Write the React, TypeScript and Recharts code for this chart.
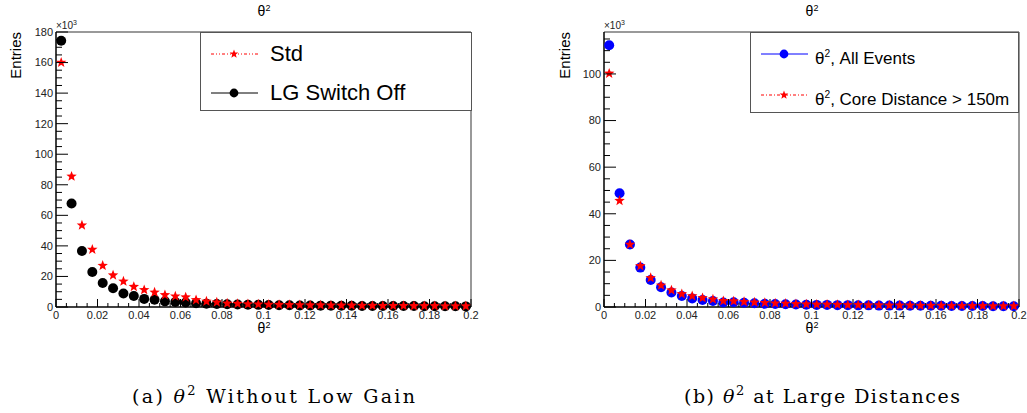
import { ScatterChart, Scatter, XAxis, YAxis, ReferenceLine, Legend } from 'recharts';

// theta^2 bin centres (bin width 0.005)
const THETA2_BINS = [
  0.0025, 0.0075, 0.0125, 0.0175, 0.0225, 0.0275, 0.0325, 0.0375, 0.0425, 0.0475,
  0.0525, 0.0575, 0.0625, 0.0675, 0.0725, 0.0775, 0.0825, 0.0875, 0.0925, 0.0975,
  0.1025, 0.1075, 0.1125, 0.1175, 0.1225, 0.1275, 0.1325, 0.1375, 0.1425, 0.1475,
  0.1525, 0.1575, 0.1625, 0.1675, 0.1725, 0.1775, 0.1825, 0.1875, 0.1925, 0.1975,
];

// entries, x10^3
const STD_COUNTS = [
  160, 85.5, 53.5, 37.6, 27.1, 20.8, 16.8, 13.3, 11.2, 9.6,
  7.9, 7.0, 6.4, 4.6, 3.7, 3.1, 2.4, 2.2, 1.9, 1.8,
  1.6, 1.5, 1.4, 1.3, 1.2, 1.2, 1.1, 1.0, 1.0, 0.9,
  0.9, 0.8, 0.8, 0.8, 0.7, 0.7, 0.7, 0.6, 0.6, 0.6,
];
const LG_OFF_COUNTS = [
  174.3, 67.8, 36.7, 22.9, 15.7, 12.3, 8.8, 7.2, 5.3, 4.8,
  3.7, 3.3, 2.9, 2.5, 2.2, 2.0, 1.8, 1.6, 1.5, 1.4,
  1.3, 1.2, 1.1, 1.0, 1.0, 0.9, 0.9, 0.8, 0.8, 0.7,
  0.7, 0.7, 0.6, 0.6, 0.6, 0.5, 0.5, 0.5, 0.5, 0.4,
];
const ALL_EVENTS_COUNTS = [
  112.3, 48.8, 26.8, 16.9, 11.6, 8.5, 6.2, 4.7, 3.7, 3.0,
  2.6, 1.9, 2.0, 1.8, 1.6, 1.4, 1.3, 1.2, 1.1, 1.0,
  0.9, 0.9, 0.8, 0.8, 0.7, 0.7, 0.6, 0.6, 0.6, 0.5,
  0.5, 0.5, 0.5, 0.4, 0.4, 0.4, 0.4, 0.3, 0.3, 0.3,
];
const CORE_150_COUNTS = [
  100.2, 45.6, 26.8, 17.6, 12.5, 9.3, 7.2, 5.6, 4.7, 3.9,
  3.3, 2.6, 2.5, 2.2, 2.0, 1.8, 1.6, 1.5, 1.3, 1.2,
  1.1, 1.1, 1.0, 0.9, 0.9, 0.8, 0.8, 0.7, 0.7, 0.7,
  0.6, 0.6, 0.6, 0.5, 0.5, 0.5, 0.5, 0.4, 0.4, 0.4,
];

const X_TICKS = [
  0, 0.005, 0.01, 0.015, 0.02, 0.025, 0.03, 0.035, 0.04, 0.045, 0.05,
  0.055, 0.06, 0.065, 0.07, 0.075, 0.08, 0.085, 0.09, 0.095, 0.1,
  0.105, 0.11, 0.115, 0.12, 0.125, 0.13, 0.135, 0.14, 0.145, 0.15,
  0.155, 0.16, 0.165, 0.17, 0.175, 0.18, 0.185, 0.19, 0.195, 0.2,
];
const X_MAJOR = [0, 0.02, 0.04, 0.06, 0.08, 0.1, 0.12, 0.14, 0.16, 0.18, 0.2];
const Y_TICKS_A = [
  0, 5, 10, 15, 20, 25, 30, 35, 40, 45, 50, 55, 60, 65, 70, 75, 80, 85, 90,
  95, 100, 105, 110, 115, 120, 125, 130, 135, 140, 145, 150, 155, 160, 165, 170, 175, 180,
];
const Y_TICKS_B = [
  0, 5, 10, 15, 20, 25, 30, 35, 40, 45, 50, 55, 60, 65, 70, 75, 80, 85, 90,
  95, 100, 105, 110, 115,
];
const Y_MAJOR = [0, 20, 40, 60, 80, 100, 120, 140, 160, 180];

const toPoints = (ys: number[]) => THETA2_BINS.map((x, i) => ({ x, y: ys[i] }));

const SANS = '"Liberation Sans", Arial, Helvetica, sans-serif';
const SERIF = '"DejaVu Serif", "Liberation Serif", serif';

function Star({ cx, cy, r = 5.5, fill = '#ff0000' }: any) {
  const pts: string[] = [];
  for (let k = 0; k < 10; k++) {
    const rad = k % 2 === 0 ? r : r * 0.42;
    const a = -Math.PI / 2 + (k * Math.PI) / 5;
    pts.push(`${cx + rad * Math.cos(a)},${cy + rad * Math.sin(a)}`);
  }
  return <polygon points={pts.join(' ')} fill={fill} />;
}

function Dot({ cx, cy, r = 5, fill = '#000' }: any) {
  return <circle cx={cx} cy={cy} r={r} fill={fill} />;
}

function XTick({ x, y, payload }: any) {
  const v = payload.value;
  const major = X_MAJOR.some((m) => Math.abs(m - v) < 1e-6);
  return (
    <g>
      <line x1={x} y1={y} x2={x} y2={y - (major ? 8 : 4)} stroke="#000" strokeWidth={1} />
      {major && (
        <text x={x} y={y + 12} textAnchor="middle" fontSize={11} fontFamily={SANS} fill="#222">
          {String(v)}
        </text>
      )}
    </g>
  );
}

function YTick({ x, y, payload }: any) {
  const v = payload.value;
  const major = Y_MAJOR.includes(v);
  return (
    <g>
      <line x1={x} y1={y} x2={x + (major ? 12 : 6)} y2={y} stroke="#000" strokeWidth={1} />
      {major && (
        <text x={x - 3} y={y} dy="0.35em" textAnchor="end" fontSize={11} fontFamily={SANS} fill="#222">
          {v}
        </text>
      )}
    </g>
  );
}

type Entry = { label: React.ReactNode; color: string; dash?: string; marker: 'star' | 'dot' };

function LegendBox({ entries, width, height, rows, textLeft, fontSize }: any) {
  return (
    <div
      style={{
        width,
        height,
        boxSizing: 'border-box',
        border: '1px solid #555',
        background: '#fff',
        position: 'relative',
        fontFamily: SANS,
        fontSize,
        color: '#000',
      }}
    >
      {entries.map((e: Entry, i: number) => (
        <div key={i} style={{ position: 'absolute', left: 0, top: rows[i] - 14, height: 28, width: '100%' }}>
          <svg width={60} height={28} style={{ position: 'absolute', left: 8, top: 0 }}>
            <line x1={2} y1={14} x2={49} y2={14} stroke={e.color} strokeWidth={1} strokeDasharray={e.dash} />
            {e.marker === 'star' ? <Star cx={25} cy={14} r={4.5} fill={e.color} /> : <Dot cx={25} cy={14} r={4.4} fill={e.color} />}
          </svg>
          <div style={{ position: 'absolute', left: textLeft, top: 0, height: 28, lineHeight: '28px', whiteSpace: 'nowrap' }}>
            {e.label}
          </div>
        </div>
      ))}
    </div>
  );
}

const LEFT_LEGEND: Entry[] = [
  { label: 'Std', color: '#ff0000', dash: '3 2 1 2 1 2', marker: 'star' },
  { label: 'LG Switch Off', color: '#000', marker: 'dot' },
];
const RIGHT_LEGEND: Entry[] = [
  { label: <span>θ<sup style={{ fontSize: '0.6em' }}>2</sup>, All Events</span>, color: '#0000ff', marker: 'dot' },
  {
    label: <span>θ<sup style={{ fontSize: '0.6em' }}>2</sup>, Core Distance &gt; 150m</span>,
    color: '#ff0000',
    dash: '3 2 1 2',
    marker: 'star',
  },
];

function Panel({ left, width, yMax, yTicks, series, legend }: any) {
  return (
    <div style={{ position: 'absolute', left, top: 0 }}>
      <ScatterChart width={width} height={340} margin={{ top: 32, right: width - 56 - 415, left: 55, bottom: 32 }}>
        <XAxis
          type="number"
          dataKey="x"
          domain={[0, 0.2]}
          ticks={X_TICKS}
          interval={0}
          height={1}
          tickSize={0}
          tickMargin={0}
          tickLine={false}
          tick={(p: any) => <XTick {...p} />}
          axisLine={{ stroke: '#000', strokeWidth: 1.5 }}
        />
        <YAxis
          type="number"
          dataKey="y"
          domain={[0, yMax]}
          ticks={yTicks}
          interval={0}
          width={1}
          tickSize={0}
          tickMargin={0}
          tickLine={false}
          tick={(p: any) => <YTick {...p} />}
          axisLine={{ stroke: '#000', strokeWidth: 1.5 }}
        />
        <ReferenceLine y={yMax} stroke="#777" strokeWidth={1.5} />
        <ReferenceLine x={0.2} stroke="#777" strokeWidth={1.5} />
        {series.map((s: any) => (
          <Scatter
            key={s.name}
            name={s.name}
            data={s.data}
            isAnimationActive={false}
            shape={(p: any) => (s.marker === 'star' ? <Star cx={p.cx} cy={p.cy} fill={s.color} /> : <Dot cx={p.cx} cy={p.cy} fill={s.color} />)}
          />
        ))}
        <Legend
          layout="vertical"
          align="center"
          verticalAlign="middle"
          wrapperStyle={{ left: legend.left, top: 32, width: legend.width, height: legend.height }}
          content={() => <LegendBox {...legend} />}
        />
      </ScatterChart>
    </div>
  );
}

export default function App() {
  return (
    <div style={{ position: 'absolute', left: 0, top: 0, width: 1027, height: 413, background: '#fff' }}>
      <Panel
        left={0}
        width={520}
        yMax={180}
        yTicks={Y_TICKS_A}
        series={[
          { name: 'LG Switch Off', data: toPoints(LG_OFF_COUNTS), color: '#000', marker: 'dot' },
          { name: 'Std', data: toPoints(STD_COUNTS), color: '#ff0000', marker: 'star' },
        ]}
        legend={{ left: 200, width: 272, height: 79, entries: LEFT_LEGEND, rows: [21, 60], textLeft: 69, fontSize: 22 }}
      />
      <Panel
        left={548}
        width={479}
        yMax={118}
        yTicks={Y_TICKS_B}
        series={[
          { name: 'All Events', data: toPoints(ALL_EVENTS_COUNTS), color: '#0000ff', marker: 'dot' },
          { name: 'Core Distance > 150m', data: toPoints(CORE_150_COUNTS), color: '#ff0000', marker: 'star' },
        ]}
        legend={{ left: 202, width: 269, height: 81, entries: RIGHT_LEGEND, rows: [21, 62], textLeft: 64, fontSize: 17 }}
      />
      <svg width={1027} height={413} style={{ position: 'absolute', left: 0, top: 0, pointerEvents: 'none' }}>
        {[{ cx: 264, ax: 56, lx: 21 }, { cx: 812, ax: 604, lx: 570 }].map((p, i) => (
          <g key={i} fontFamily={SANS} fill="#000">
            <text x={p.cx} y={16} textAnchor="middle" fontSize={14}>
              θ<tspan dy={-5} fontSize={9}>2</tspan>
            </text>
            <text x={p.cx} y={333} textAnchor="middle" fontSize={14}>
              θ<tspan dy={-5} fontSize={9}>2</tspan>
            </text>
            <text x={p.lx} y={32} textAnchor="end" fontSize={15} transform={`rotate(-90, ${p.lx}, 32)`}>
              Entries
            </text>
            <text x={p.ax} y={29} fontSize={10} fill="#222">
              ×10<tspan dy={-4} fontSize={7}>3</tspan>
            </text>
          </g>
        ))}
        <text x={132} y={403} fontSize={19} fontFamily={SERIF} textLength={283} lengthAdjust="spacing">
          (a) <tspan fontStyle="italic">θ</tspan><tspan dy={-8} fontSize={13}>2</tspan><tspan dy={8}> Without Low Gain</tspan>
        </text>
        <text x={684} y={403} fontSize={19} fontFamily={SERIF} textLength={276} lengthAdjust="spacing">
          (b) <tspan fontStyle="italic">θ</tspan><tspan dy={-8} fontSize={13}>2</tspan><tspan dy={8}> at Large Distances</tspan>
        </text>
      </svg>
    </div>
  );
}
